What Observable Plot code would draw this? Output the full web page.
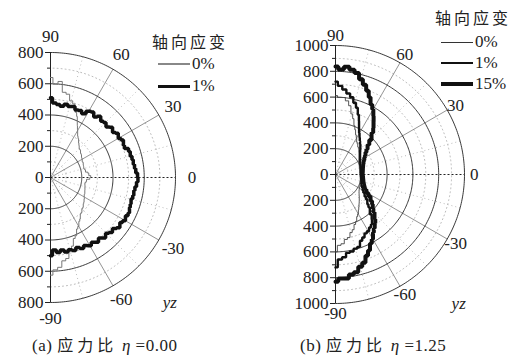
<!DOCTYPE html>
<html><head><meta charset="utf-8">
<script src="https://cdn.jsdelivr.net/npm/d3@7"></script>
<script src="https://cdn.jsdelivr.net/npm/@observablehq/plot@0.6"></script>
<style>
body{margin:0;background:#fff;font-family:"Liberation Serif","Times New Roman","DejaVu Serif","Noto Sans CJK SC",serif;color:#222}
#wrap{position:relative;width:526px;height:360px;overflow:hidden}
.panel{position:absolute;top:0;width:263px;height:360px}
.panel svg, .panel svg text, .panel svg g{font-family:"Liberation Serif","Times New Roman","DejaVu Serif",serif !important}
.cap{position:absolute;top:332px;font-size:17px;white-space:nowrap;letter-spacing:0.5px}
.cap .cj{letter-spacing:4px;font-family:"Noto Sans CJK SC",sans-serif;font-size:16px}
.leg{position:absolute;font-size:17px;white-space:nowrap;line-height:1}
.lt{letter-spacing:3px;font-family:"Noto Sans CJK SC",sans-serif;font-size:16px}
.sw{position:absolute;height:0}
</style></head><body>
<div id="wrap">
  <div class="panel" id="pa" style="left:0"></div>
  <div class="panel" id="pb" style="left:263px"></div>
</div>
<script>
// angle (degrees) of each sample
const angles = [90,87,84,81,78,75,72,69,66,63,60,57,54,51,48,45,42,39,36,33,30,27,24,21,18,15,12,9,6,3,0,-3,-6,-9,-12,-15,-18,-21,-24,-27,-30,-33,-36,-39,-42,-45,-48,-51,-54,-57,-60,-63,-66,-69,-72,-75,-78,-81,-84,-87,-90];

// (a) stress ratio 0.00
const a_strain0 = [640,598,618,552,545,508,495,448,428,372,352,315,308,284,276,258,262,244,250,232,240,222,236,218,230,214,236,220,262,230,285,218,245,212,236,218,242,226,250,236,256,252,270,266,286,282,302,300,328,334,362,370,408,418,462,484,530,540,578,592,625];
const a_strain1 = [510,478,470,462,480,470,478,462,470,458,490,500,478,505,485,498,482,512,490,520,498,530,505,520,540,525,548,530,555,540,575,545,560,530,555,528,548,535,560,540,552,530,548,518,525,505,520,498,512,495,505,488,498,480,492,478,488,470,482,465,500];

// (b) stress ratio 1.25
const b_strain0 = [612,598,600,578,545,486,455,405,380,345,330,300,294,274,272,254,248,232,228,214,212,202,202,195,196,190,192,188,190,186,192,188,194,192,198,196,202,202,208,210,216,216,228,232,250,258,278,288,312,326,354,366,400,415,450,465,500,510,540,550,600];
const b_strain1 = [720,688,662,636,612,576,544,496,455,396,372,342,324,302,292,268,260,242,238,225,222,213,212,204,206,200,202,196,200,195,199,196,202,199,207,205,214,210,227,232,248,258,290,305,345,360,415,450,480,490,508,512,535,550,590,595,610,615,645,660,720];
const b_strain15 = [838,815,840,822,805,765,732,695,655,610,585,540,505,465,436,378,345,310,295,270,265,244,242,228,228,218,220,212,216,208,214,210,218,214,224,222,234,236,252,258,288,310,350,365,395,415,465,485,515,535,580,600,645,675,720,740,775,785,810,808,832];

const a_ticks = [-800,-600,-400,-200,0,200,400,600,800];
const b_ticks = [-1000,-800,-600,-400,-200,0,200,400,600,800,1000];
const angleLabels = [90,60,30,0,-30,-60,-90];
const legendTitle = "轴向应变";
const a_labels = ["0%","1%"];
const b_labels = ["0%","1%","15%"];

const FONT = "'Liberation Serif','Times New Roman','DejaVu Serif',serif";
const rad = d => d * Math.PI / 180;
const px = (r, a) => r * Math.cos(rad(a));
const py = (r, a) => r * Math.sin(rad(a));

function panel(el, cfg) {
  const {rmax, ticks, step, left, top, bottom, series, labelR} = cfg;
  const k = (bottom - top) / (2 * rmax);
  const W = 263, H = 325;
  const major = ticks.filter(t => t > 0);
  const minor = d3.range(step / 2, rmax, step);
  const arcPts = rs => rs.flatMap(r => d3.range(-90, 90.01, 1).map(a => ({r, a})));
  const rows = series.flatMap(s => s.values.map((r, i) => ({r, a: angles[i], s: s.name})));
  const marks = [
    Plot.line(arcPts(minor), {x: d => px(d.r, d.a), y: d => py(d.r, d.a), z: "r", stroke: "#aaa", strokeWidth: 0.8, strokeDasharray: "1,3"}),
    Plot.link([15, 45, 75, -15, -45, -75], {x1: () => 0, y1: () => 0, x2: a => px(rmax, a), y2: a => py(rmax, a), stroke: "#aaa", strokeWidth: 0.8, strokeDasharray: "1,3"}),
    Plot.link([30, 60, -30, -60], {x1: () => 0, y1: () => 0, x2: a => px(rmax, a), y2: a => py(rmax, a), stroke: "#777", strokeWidth: 0.8}),
    Plot.link([0], {x1: () => 0, y1: () => 0, x2: () => rmax, y2: () => 0, stroke: "#222", strokeWidth: 1, strokeDasharray: "2,2"}),
    Plot.line(arcPts(major), {x: d => px(d.r, d.a), y: d => py(d.r, d.a), z: "r", stroke: "#222", strokeWidth: 0.9}),
    Plot.ruleX([0], {y1: -rmax, y2: rmax, stroke: "#222", strokeWidth: 1}),
    Plot.axisY({ticks: minor.concat(minor.map(v => -v)), tickSize: 3, tickFormat: () => "", stroke: "#222"}),
    Plot.axisY({ticks, tickFormat: d => String(Math.abs(d)), tickSize: 5, tickPadding: 2, fontSize: 17, fontFamily: FONT, label: null, stroke: "#222", fill: "#222"}),
    ...series.map(s => Plot.line(rows.filter(d => d.s === s.name), {x: d => px(d.r, d.a), y: d => py(d.r, d.a), stroke: s.stroke, strokeWidth: s.width, curve: "step", strokeLinejoin: "miter"})),
    Plot.text(angleLabels, {x: a => px(labelR, a), y: a => py(labelR, a), text: a => String(a), fontSize: 17, fontFamily: FONT, fill: "#222"}),
    Plot.text(["yz"], {x: () => rmax * 0.955, y: () => -rmax * 1.0, text: d => d, fontSize: 17, fontFamily: FONT, fontStyle: "italic", fill: "#222"})
  ];
  const chart = Plot.plot({
    width: W, height: H,
    marginLeft: left, marginRight: 0, marginTop: top, marginBottom: H - bottom,
    x: {domain: [0, (W - left) / k], axis: null},
    y: {domain: [-rmax, rmax], axis: null},
    style: {fontFamily: FONT, background: "transparent", color: "#222", overflow: "visible"},
    marks
  });
  el.appendChild(chart);
}

panel(document.getElementById("pa"), {
  rmax: 800, ticks: a_ticks, step: 200, left: 50, top: 52, bottom: 302, labelR: 905,
  series: [
    {name: a_labels[0], values: a_strain0, stroke: "#777", width: 1},
    {name: a_labels[1], values: a_strain1, stroke: "#111", width: 3.5}
  ]
});
panel(document.getElementById("pb"), {
  rmax: 1000, ticks: b_ticks, step: 200, left: 72, top: 45, bottom: 303, labelR: 1075,
  series: [
    {name: b_labels[0], values: b_strain0, stroke: "#444", width: 0.9},
    {name: b_labels[1], values: b_strain1, stroke: "#111", width: 2.4},
    {name: b_labels[2], values: b_strain15, stroke: "#111", width: 4}
  ]
});

function addLegend(el, x, y0, dy, titleX, titleY, labels, styles) {
  const t = document.createElement("div");
  t.className = "leg lt"; t.textContent = legendTitle;
  t.style.left = titleX + "px"; t.style.top = titleY + "px";
  el.appendChild(t);
  labels.forEach((lab, i) => {
    const y = y0 + i * dy;
    const sw = document.createElement("div");
    sw.className = "sw";
    sw.style.left = x + "px"; sw.style.top = (y - styles[i].w / 2) + "px";
    sw.style.width = "32px"; sw.style.borderTop = styles[i].w + "px solid " + styles[i].c;
    el.appendChild(sw);
    const l = document.createElement("div");
    l.className = "leg"; l.textContent = lab;
    l.style.left = (x + 34) + "px"; l.style.top = (y - 9) + "px";
    el.appendChild(l);
  });
}
addLegend(document.getElementById("pa"), 158, 64, 22, 152, 33, a_labels, [{w: 2, c: "#888"}, {w: 3, c: "#111"}]);
addLegend(document.getElementById("pb"), 178, 42, 21, 172, 9, b_labels, [{w: 1, c: "#333"}, {w: 2, c: "#111"}, {w: 4, c: "#111"}]);

function addCaption(el, x, letter, val) {
  const c = document.createElement("div");
  c.className = "cap"; c.style.left = x + "px";
  c.innerHTML = "(" + letter + ") <span class='cj'>应力比</span> <i>η</i> =" + val;
  el.appendChild(c);
}
addCaption(document.getElementById("pa"), 32, "a", "0.00");
addCaption(document.getElementById("pb"), 37, "b", "1.25");
</script>
</body></html>
